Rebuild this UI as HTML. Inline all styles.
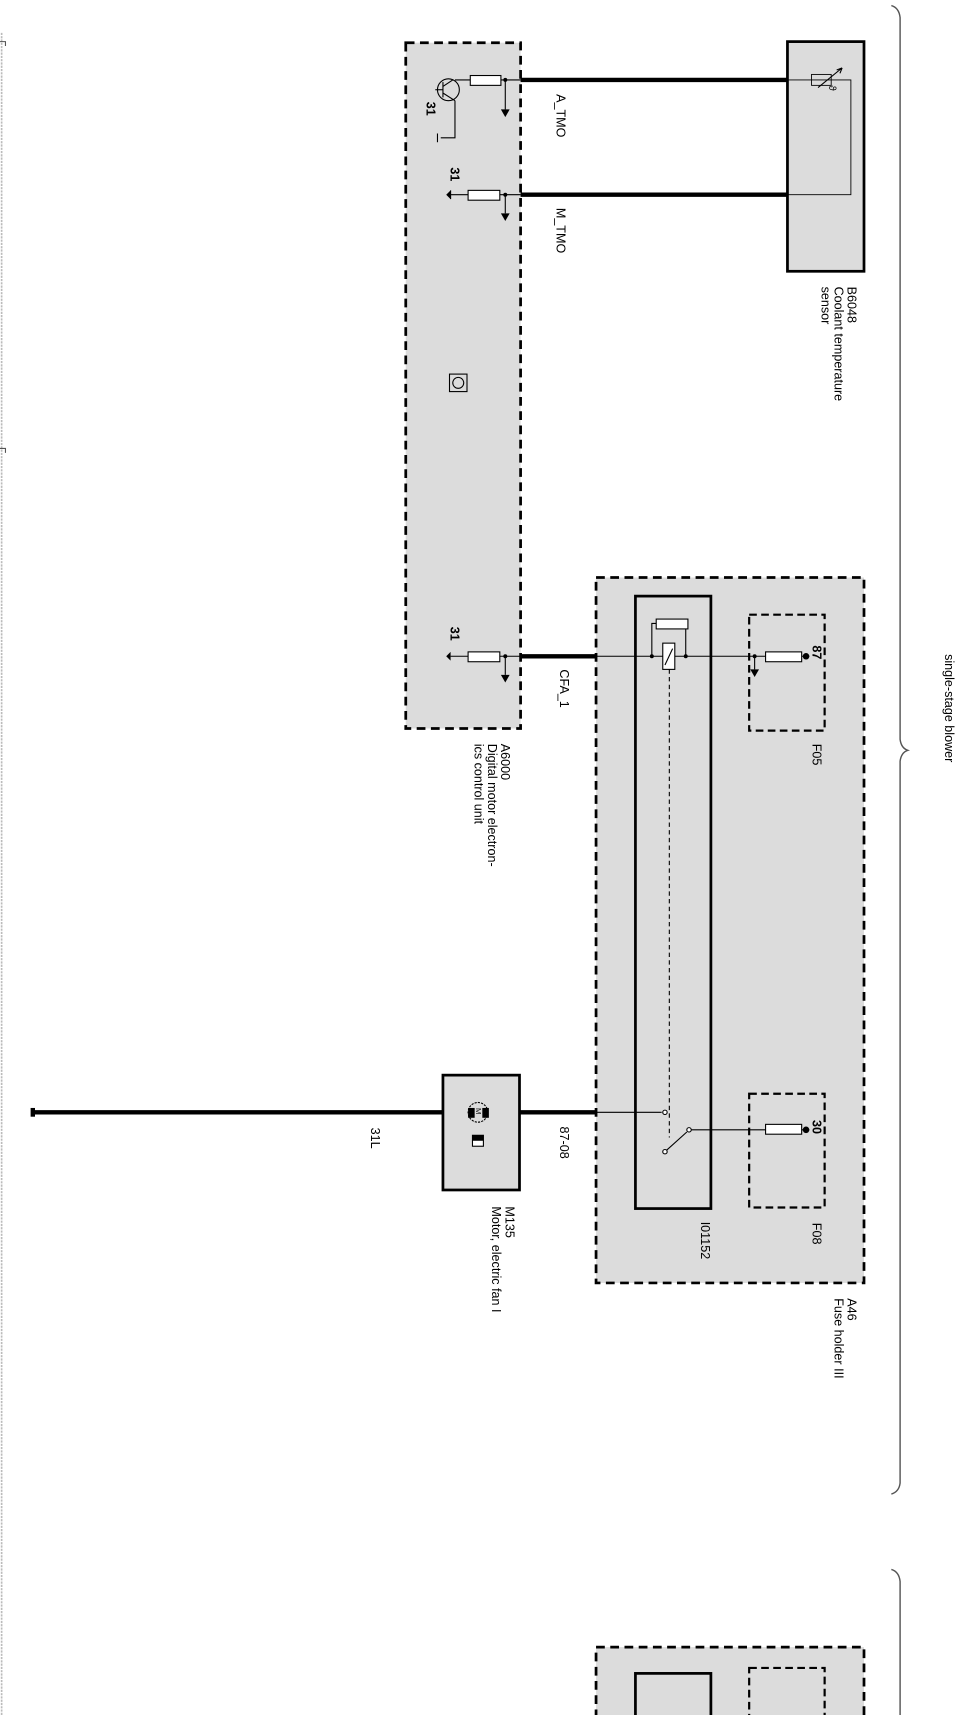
<!DOCTYPE html>
<html><head><meta charset="utf-8"><style>
html,body{margin:0;padding:0;background:#fff;width:969px;height:1715px;overflow:hidden}
svg{display:block}
text{font-family:"Liberation Sans",Arial,sans-serif;font-size:11.5px;fill:#000}
</style></head><body>
<svg width="969" height="1715" viewBox="0 0 886 1568" xmlns="http://www.w3.org/2000/svg">
<line x1="1.5" y1="30" x2="1.5" y2="1568" stroke="#bbb" stroke-width="1.5" stroke-dasharray="2 1"/>
<path d="M0 38 h5 v4 M0 410 h5 v4" stroke="#555" fill="none"/>

<rect x="371" y="39" width="105" height="627" fill="#dcdcdc" stroke="#000" stroke-width="2.5" stroke-dasharray="8 5"/>
<rect x="720" y="38" width="70" height="210" fill="#dcdcdc" stroke="#000" stroke-width="2.5"/>
<path d="M720 73 H778 V178 H720" fill="none" stroke="#000" stroke-width="0.8"/>
<path d="M748 80 L770 62 M770 62 l-2 5 M770 62 l-5 2" stroke="#000" fill="none"/>
<rect x="742" y="68" width="18" height="10" fill="none" stroke="#000" stroke-width="0.8"/>
<text transform="translate(758,78) rotate(90)" style="font-size:9px">ϑ</text>

<line x1="476" y1="73" x2="720" y2="73" stroke="#000" stroke-width="4"/>
<line x1="476" y1="178" x2="720" y2="178" stroke="#000" stroke-width="4"/>
<line x1="476" y1="600" x2="545" y2="600" stroke="#000" stroke-width="4"/>

<g stroke="#000" fill="none" stroke-width="1">
<line x1="416" y1="73" x2="476" y2="73"/>
<rect x="430" y="69" width="28" height="9" fill="#fff"/>
<line x1="462" y1="73" x2="462" y2="100"/>
<circle cx="410" cy="82" r="10"/>
<line x1="398" y1="82" x2="405" y2="82"/>
<line x1="405" y1="75" x2="405" y2="89"/>
<line x1="405" y1="79" x2="414" y2="73"/>
<line x1="405" y1="85" x2="416" y2="92"/>
<path d="M416 92 V126 H403"/>
<line x1="400" y1="122" x2="400" y2="130"/>
<line x1="412" y1="178" x2="476" y2="178"/>
<rect x="428" y="174" width="29" height="9" fill="#fff"/>
<line x1="412" y1="174" x2="412" y2="182"/>
<line x1="462" y1="178" x2="462" y2="195"/>
<rect x="411" y="342" width="16" height="16"/>
<circle cx="419" cy="350" r="5"/>
<line x1="412" y1="600" x2="476" y2="600"/>
<rect x="428" y="596" width="29" height="9" fill="#fff"/>
<line x1="462" y1="600" x2="462" y2="617"/>
</g>
<g fill="#000">
<polygon points="458,100 466,100 462,107"/>
<polygon points="458,195 466,195 462,202"/>
<polygon points="458,617 466,617 462,624"/>
<circle cx="462" cy="73" r="1.8"/><circle cx="462" cy="178" r="1.8"/><circle cx="462" cy="600" r="1.8"/>
<polygon points="412,174 412,182 408,178"/><polygon points="412,596 412,604 408,600"/>
</g>
<text transform="translate(390,93) rotate(90)" style="font-weight:bold">31</text>
<text transform="translate(412,153) rotate(90)" style="font-weight:bold">31</text>
<text transform="translate(412,573) rotate(90)" style="font-weight:bold">31</text>

<rect x="545" y="528" width="245" height="645" fill="#dcdcdc" stroke="#000" stroke-width="2.5" stroke-dasharray="8 5"/>
<rect x="581" y="545" width="69" height="560" fill="#dcdcdc" stroke="#000" stroke-width="2.5"/>
<rect x="685" y="562" width="69" height="106" fill="none" stroke="#000" stroke-width="2" stroke-dasharray="7 4"/>
<rect x="685" y="1000" width="69" height="104" fill="none" stroke="#000" stroke-width="2" stroke-dasharray="7 4"/>
<g stroke="#000" fill="none" stroke-width="1">
<line x1="545" y1="600" x2="740" y2="600"/>
<path d="M596 600 V570 H627 V600"/>
<rect x="600" y="566" width="29" height="9" fill="#fff"/>
<rect x="606" y="588" width="11" height="24" fill="#fff"/>
<line x1="608" y1="608" x2="615" y2="593"/>
<line x1="612" y1="612" x2="612" y2="1040" stroke-dasharray="4 3"/>
<rect x="700" y="596" width="33" height="9" fill="#fff"/>
<line x1="690" y1="600" x2="690" y2="612"/>
<line x1="475" y1="1017" x2="605" y2="1017"/>
<line x1="608" y1="1053" x2="628" y2="1035"/>
<line x1="630" y1="1033" x2="740" y2="1033"/>
<rect x="700" y="1028" width="33" height="9" fill="#fff"/>
</g>
<g fill="#000">
<circle cx="596" cy="600" r="1.8"/><circle cx="627" cy="600" r="1.8"/><circle cx="690" cy="600" r="1.8"/>
<circle cx="737" cy="600" r="3"/><circle cx="737" cy="1033" r="3"/>
<polygon points="686,612 694,612 690,619"/>
</g>
<circle cx="608" cy="1017" r="2" fill="#fff" stroke="#000"/>
<circle cx="608" cy="1053" r="2" fill="#fff" stroke="#000"/>
<circle cx="630" cy="1033" r="2" fill="#fff" stroke="#000"/>
<text transform="translate(743,590) rotate(90)" style="font-weight:bold">87</text>
<text transform="translate(743,1024) rotate(90)" style="font-weight:bold">30</text>

<line x1="30" y1="1017" x2="545" y2="1017" stroke="#000" stroke-width="4"/>
<rect x="405" y="983" width="70" height="105" fill="#dcdcdc" stroke="#000" stroke-width="2.5"/>
<circle cx="437" cy="1017" r="9" fill="#dcdcdc" stroke="#000" stroke-width="1" stroke-dasharray="2 1"/>
<rect x="428" y="1013" width="6" height="9" fill="#000"/><rect x="441" y="1013" width="6" height="9" fill="#000"/>
<text transform="translate(435,1013) rotate(90)" style="font-size:7px">M</text>
<rect x="432" y="1038" width="10" height="10" fill="#fff" stroke="#000"/><rect x="432" y="1038" width="10" height="5" fill="#000"/>
<rect x="28" y="1013" width="4" height="8" fill="#000"/>

<path d="M815 5 Q822 7 823 16 V676 Q824 684 830 686 Q824 688 823 696 V1356 Q822 1364 815 1366" fill="none" stroke="#555" stroke-width="1.3"/>
<path d="M815 1435 Q822 1437 823 1446 V1568" fill="none" stroke="#555" stroke-width="1.3"/>
<text transform="translate(864,598) rotate(90)">single-stage blower</text>

<rect x="545" y="1506" width="245" height="80" fill="#dcdcdc" stroke="#000" stroke-width="2.5" stroke-dasharray="8 5"/>
<rect x="581" y="1530" width="69" height="60" fill="#dcdcdc" stroke="#000" stroke-width="2.5"/>
<rect x="685" y="1525" width="69" height="60" fill="none" stroke="#000" stroke-width="2" stroke-dasharray="7 4"/>

<text transform="translate(509,86) rotate(90)">A_TMO</text>
<text transform="translate(509,190) rotate(90)">M_TMO</text>
<text transform="translate(512,612) rotate(90)">CFA_1</text>
<text transform="translate(512,1030) rotate(90)">87-08</text>
<text transform="translate(339,1031) rotate(90)">31L</text>
<text transform="translate(775,262) rotate(90)">B6048</text>
<text transform="translate(763,262) rotate(90)">Coolant temperature</text>
<text transform="translate(751,262) rotate(90)">sensor</text>
<text transform="translate(458,680) rotate(90)">A6000</text>
<text transform="translate(446,680) rotate(90)">Digital motor electron-</text>
<text transform="translate(434,680) rotate(90)">ics control unit</text>
<text transform="translate(743,680) rotate(90)">F05</text>
<text transform="translate(743,1118) rotate(90)">F08</text>
<text transform="translate(641,1117) rotate(90)">I01152</text>
<text transform="translate(775,1187) rotate(90)">A46</text>
<text transform="translate(763,1187) rotate(90)">Fuse holder III</text>
<text transform="translate(462,1103) rotate(90)">M135</text>
<text transform="translate(450,1103) rotate(90)">Motor, electric fan I</text>
</svg>
</body></html>
